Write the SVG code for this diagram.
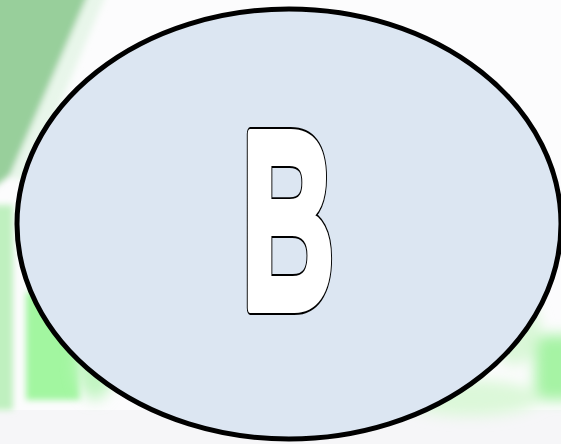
<svg xmlns="http://www.w3.org/2000/svg" width="561" height="444" viewBox="0 0 561 444">
  <defs>
    <filter id="blur" x="-20%" y="-20%" width="140%" height="140%">
      <feGaussianBlur stdDeviation="3"/>
    </filter>
    <filter id="blur2" x="-30%" y="-30%" width="160%" height="160%">
      <feGaussianBlur stdDeviation="7"/>
    </filter>
  </defs>
  <style>
    .node-shape { fill: #dce6f2; stroke: #000000; stroke-width: 5; }
    .label { font-family: "Liberation Sans", Arial, sans-serif; font-weight: bold; font-size: 253px; vector-effect: non-scaling-stroke; stroke-linejoin: round; }
    .label-outline { fill: #000000; stroke: #000000; stroke-width: 11; }
    .label-fill { fill: #ffffff; stroke: #ffffff; stroke-width: 8; }
  </style>
  <g id="background">
    <rect x="0" y="0" width="561" height="444" fill="#fcfcfd"/>
    <rect x="0" y="410" width="561" height="34" fill="#f6f6f8"/>
    <g filter="url(#blur)">
      <polygon points="-10,-10 90,-10 10,175 -10,190" fill="#98cf9b"/>
      <polygon points="90,-10 108,-10 28,180 10,178" fill="#e8f6ea"/>
      <rect x="-10" y="205" width="23" height="205" fill="#bff0bf"/>
      <rect x="26" y="292" width="54" height="108" fill="#a2f6a0"/>
    </g>
    <g filter="url(#blur2)">
      <rect x="535" y="335" width="40" height="65" fill="#a6f3a4"/>
      <ellipse cx="470" cy="398" rx="70" ry="18" fill="#dcf8d9"/>
      <ellipse cx="515" cy="330" rx="25" ry="35" fill="#daf7d8"/>
      <ellipse cx="95" cy="360" rx="20" ry="40" fill="#c2f5c2"/>
    </g>
  </g>
  <g id="node-B">
    <ellipse class="node-shape" cx="289" cy="224" rx="272" ry="215"/>
    <g transform="translate(288,308) scale(0.507,1)">
      <text class="label label-outline" text-anchor="middle" x="0" y="0">B</text>
      <text class="label label-fill" text-anchor="middle" x="0" y="0">B</text>
    </g>
  </g>
  <g id="connectors"/>
</svg>
